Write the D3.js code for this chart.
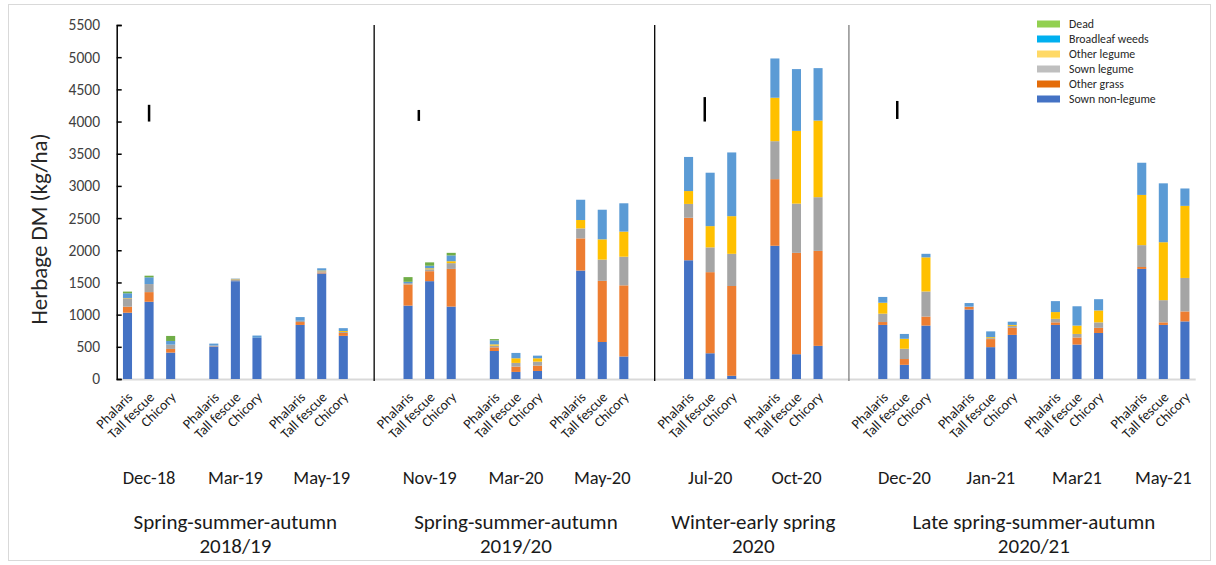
<!DOCTYPE html>
<html>
<head>
<meta charset="utf-8">
<script src="https://cdn.jsdelivr.net/npm/d3@7"></script>
<style>
  html, body { margin: 0; padding: 0; background: #fff; }
  svg { display: block; font-family: Carlito, Lato, "Open Sans", sans-serif; }
</style>
</head>
<body>
<svg id="chart" width="1216" height="565"></svg>
<script>
// ---------------- DATA ----------------
const periods = ["Dec-18","Mar-19","May-19","Nov-19","Mar-20","May-20","Jul-20","Oct-20","Dec-20","Jan-21","Mar21","May-21"];
const grasses = ["Phalaris","Tall fescue","Chicory"];
const seasonLine1 = ["Spring-summer-autumn","Spring-summer-autumn","Winter-early spring","Late spring-summer-autumn"];
const seasonLine2 = ["2018/19","2019/20","2020","2020/21"];
const seasonPeriods = [[0,1,2],[3,4,5],[6,7],[8,9,10,11]];

const components = ["Sown non-legume","Other grass","Sown legume","Other legume","Broadleaf weeds","Dead"];
// values per bar, order: period x grass (Phalaris, Tall fescue, Chicory)
const sownNonLegume = [1030,1200,410, 505,1520,640, 840,1640,670, 1140,1520,1125, 435,110,125, 1685,575,350, 1845,400,50, 2070,385,515, 840,220,830, 1080,495,685, 840,535,715, 1710,840,895];
const otherGrass    = [94,150,57, 5,0,0, 45,15,45, 330,155,585, 57,83,83, 500,950,1105, 660,1260,1395, 1035,1575,1475, 45,90,140, 40,125,110, 40,110,80, 30,40,155];
const sownLegume    = [130,125,67, 10,30,0, 20,20,15, 20,30,90, 26,57,62, 155,330,445, 215,385,500, 590,765,835, 130,160,390, 5,15,30, 55,55,85, 340,345,520];
const otherLegume   = [5,0,0, 0,5,0, 0,10,15, 0,15,30, 20,72,52, 130,315,390, 200,330,585, 675,1130,1190, 170,155,530, 0,15,15, 105,130,185, 780,900,1120];
const broadleafWeeds= [73,105,57, 30,5,35, 57,35,45, 20,40,90, 62,83,41, 315,460,440, 530,830,990, 610,960,815, 90,75,55, 55,90,50, 170,300,175, 500,915,270];
const dead          = [26,25,78, 0,0,0, 0,0,0, 73,52,40, 20,0,0, 0,0,0, 0,0,0, 0,0,0, 0,0,0, 0,0,0, 0,0,0, 0,0,0];

const yTicks = [0,500,1000,1500,2000,2500,3000,3500,4000,4500,5000,5500];

// LSD bars
const lsdPeriods = ["Dec-18","Nov-19","Jul-20","Dec-20"];
const lsdOffset  = [1, 0.5, 0.75, 0.67];   // position inside the group, in bar slots
const lsdLow     = [4000, 4010, 4000, 4040];
const lsdHigh    = [4260, 4180, 4380, 4320];

// colours
const barColors    = ["#4472C4","#ED7D31","#A5A5A5","#FFC000","#5B9BD5","#70AD47"];
const legendColors = ["#4472C4","#E46C0A","#BFBFBF","#FFD966","#00B0F0","#92D050"];

// ---------------- LAYOUT ----------------
const svg = d3.select("#chart");
const plot = {left: 116.7, right: 1195.7, top: 25, bottom: 379};

// build category slots: 1 empty slot between periods, 2 between seasons
const slots = [];
const periodSlot = {};
seasonPeriods.forEach((ps, si) => {
  ps.forEach((p, pi) => {
    periodSlot[periods[p]] = slots.length;
    grasses.forEach(g => slots.push(periods[p] + "|" + g));
    if (pi < ps.length - 1) slots.push("gap" + slots.length);
  });
  if (si < seasonPeriods.length - 1) { slots.push("gap" + slots.length); slots.push("gap" + slots.length); }
});

const x = d3.scaleBand().domain(slots).range([plot.left, plot.right]).paddingInner(0.58).paddingOuter(0.29);
const step = x.step();
const slotStart = i => plot.left + i * step;
const slotCenter = i => slotStart(i) + step / 2;

const y = d3.scaleLinear().domain([0, 5500]).range([plot.bottom, plot.top]);

// outer border
svg.append("rect").attr("x", 8.5).attr("y", 4.5).attr("width", 1202).attr("height", 556)
  .attr("fill", "none").attr("stroke", "#D9D9D9").attr("stroke-width", 1);

// stacked data
const seriesArrays = [sownNonLegume, otherGrass, sownLegume, otherLegume, broadleafWeeds, dead];
const rows = [];
periods.forEach((p, pi) => grasses.forEach((g, gi) => {
  const r = {key: p + "|" + g};
  components.forEach((c, ci) => r[c] = seriesArrays[ci][pi * 3 + gi]);
  rows.push(r);
}));
const stack = d3.stack().keys(components)(rows);

// x-axis baseline
svg.append("line").attr("x1", plot.left).attr("x2", plot.right).attr("y1", y(0) + 0.5).attr("y2", y(0) + 0.5)
  .attr("stroke", "#D9D9D9").attr("stroke-width", 2);

// bars
svg.append("g").selectAll("g").data(stack).join("g")
  .attr("fill", (d, i) => barColors[i])
  .selectAll("rect").data(d => d).join("rect")
  .attr("x", d => x(d.data.key))
  .attr("width", x.bandwidth())
  .attr("y", d => y(d[1]))
  .attr("height", d => Math.max(0, y(d[0]) - y(d[1])));

// y axis
const yAxis = d3.axisRight(y).tickValues(yTicks).tickSize(5).tickFormat("");
const ya = svg.append("g").attr("transform", `translate(${plot.left},0)`).call(yAxis);
ya.select(".domain").attr("stroke", "#000").attr("stroke-width", 1.5);
ya.selectAll(".tick line").attr("stroke", "#000").attr("stroke-width", 1.5);
svg.append("g").selectAll("text").data(yTicks).join("text")
  .attr("x", 100).attr("y", d => y(d)).attr("dy", "0.35em")
  .attr("text-anchor", "end").attr("font-size", 15.5).attr("fill", "#404040")
  .text(d => d);

// y title
svg.append("text").attr("transform", `translate(47,229) rotate(-90)`)
  .attr("text-anchor", "middle").attr("font-size", 23).attr("fill", "#262626")
  .text("Herbage DM (kg/ha)");

// season separators: left edge of the second empty slot between seasons
const sepSlots = [];
seasonPeriods.slice(0, -1).forEach((ps) => {
  const last = ps[ps.length - 1];
  sepSlots.push(periodSlot[periods[last]] + 4);
});
const sepColors = ["#000","#000","#7F7F7F"];
svg.append("g").selectAll("line").data(sepSlots).join("line")
  .attr("x1", d => slotStart(d) - 1.5).attr("x2", d => slotStart(d) - 1.5)
  .attr("y1", plot.top).attr("y2", plot.bottom + 2)
  .attr("stroke", (d, i) => sepColors[i]).attr("stroke-width", 1.3);

// LSD bars
svg.append("g").selectAll("line").data(lsdPeriods).join("line")
  .attr("x1", (d, i) => slotCenter(periodSlot[d] + lsdOffset[i]))
  .attr("x2", (d, i) => slotCenter(periodSlot[d] + lsdOffset[i]))
  .attr("y1", (d, i) => y(lsdLow[i])).attr("y2", (d, i) => y(lsdHigh[i]))
  .attr("stroke", "#000").attr("stroke-width", 2.5);

// rotated grass labels
svg.append("g").selectAll("text").data(rows).join("text")
  .attr("transform", d => `translate(${x(d.key) + x.bandwidth() / 2 + 6},${plot.bottom + 19}) rotate(-45)`)
  .attr("text-anchor", "end").attr("font-size", 14).attr("fill", "#1a1a1a")
  .text(d => d.key.split("|")[1]);

// month labels
svg.append("g").selectAll("text").data(periods).join("text")
  .attr("x", p => slotCenter(periodSlot[p] + 1)).attr("y", 484)
  .attr("text-anchor", "middle").attr("font-size", 18.5).attr("fill", "#1a1a1a")
  .text(p => p);

// season labels
const seasonCenter = ps => (slotStart(periodSlot[periods[ps[0]]]) + slotStart(periodSlot[periods[ps[ps.length - 1]]] + 3)) / 2;
const sg = svg.append("g").selectAll("text").data(seasonPeriods).join("text")
  .attr("text-anchor", "middle").attr("font-size", 21).attr("fill", "#1a1a1a");
sg.append("tspan").attr("x", seasonCenter).attr("y", 529).text((d, i) => seasonLine1[i]);
sg.append("tspan").attr("x", seasonCenter).attr("y", 553).text((d, i) => seasonLine2[i]);

// legend (top-down order reverse of stack)
const legendOrder = d3.range(components.length).reverse();
const lg = svg.append("g").selectAll("g").data(legendOrder).join("g")
  .attr("transform", (d, i) => `translate(1037,${24 + i * 15})`);
lg.append("rect").attr("x", 0).attr("y", -3.5).attr("width", 23).attr("height", 7)
  .attr("fill", d => legendColors[d]);
lg.append("text").attr("x", 32).attr("y", 0).attr("dy", "0.35em")
  .attr("font-size", 11.8).attr("fill", "#262626").text(d => components[d]);
</script>
</body>
</html>
